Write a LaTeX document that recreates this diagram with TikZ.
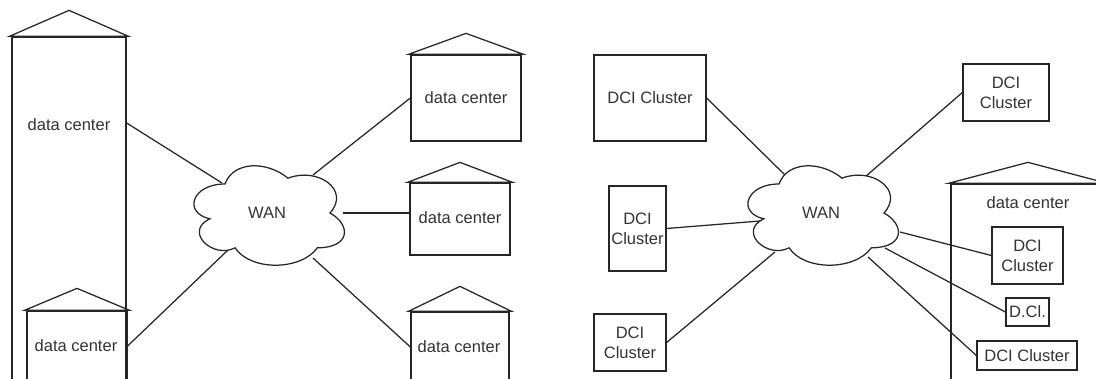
\documentclass[tikz,border=0pt]{standalone}
\usepackage{fontspec}
\setmainfont{Liberation Sans}
\usetikzlibrary{calc}

% gable roof on top of a box node: #1 node name, #2 rise of the apex
\newcommand\houseroof[2]{%
  \draw[outline] ([xshift=-2pt]#1.north west) -- ([yshift=#2]#1.north)
    -- ([xshift=2pt]#1.north east) -- cycle;}

% WAN cloud in a 168 x 116 frame whose top left corner is (#1,#2); #3 names its text
\newcommand\wancloud[3]{%
  \begin{scope}[shift={(#1,#2)}, x=168pt, y=-116pt]
    \draw[cloudline] (0.25,0.25) .. controls (0.05,0.25) and (0,0.5) .. (0.16,0.55)
      .. controls (0,0.66) and (0.18,0.9) .. (0.31,0.8)
      .. controls (0.4,1) and (0.7,1) .. (0.8,0.8)
      .. controls (1,0.8) and (1,0.6) .. (0.875,0.5)
      .. controls (1,0.3) and (0.8,0.1) .. (0.625,0.2)
      .. controls (0.5,0.05) and (0.3,0.05) .. (0.25,0.25) -- cycle;
    \node[txt] (#3) at (0.5,0.5) {WAN};
  \end{scope}}

\begin{document}
\begin{tikzpicture}[x=1pt, y=-1pt,
  outline/.style={draw=black!85, line width=1.25pt},
  box/.style={outline, rectangle, inner sep=0pt},
  txt/.style={font=\fontsize{16.5}{20}\selectfont, text=black!80, align=center, inner sep=0pt},
  link/.style={draw=black!85, line width=1.25pt},
  cloudline/.style={outline, fill=white}]

\useasboundingbox (0,0) rectangle (1096,379);
\clip (0,0) rectangle (1096,379);
\fill[white] (0,0) rectangle (1096,379);

% ---------------- left: data centers around a WAN ----------------
\node[box, minimum width=114pt, minimum height=400pt] (dc1) at (69,237) {};
\node[txt] (dc1t) at (69,125) {data center};
\houseroof{dc1}{26pt}

\node[box, txt, minimum width=110pt, minimum height=86pt] (dc2) at (466,98) {data center};
\houseroof{dc2}{21pt}

\node[box, minimum width=100pt, minimum height=72pt] (dc3) at (460,219) {};
\node[txt] (dc3t) at (460,218) {data center};
\houseroof{dc3}{20pt}

\node[box, minimum width=98pt, minimum height=400pt] (dc4) at (460,512) {};
\node[txt] (dc4t) at (459,347) {data center};
\houseroof{dc4}{25pt}

\node[box, minimum width=100pt, minimum height=400pt] (dc5) at (77,511) {};
\node[txt] (dc5t) at (76,346) {data center};
\houseroof{dc5}{22pt}

% attachment points on the left cloud
\coordinate (wl-a) at (222,183);
\coordinate (wl-b) at (313,175);
\coordinate (wl-c) at (343,213);
\coordinate (wl-d) at (313,258);
\coordinate (wl-e) at (228,250);

\draw[link] (dc1.east |- 0,123) -- (wl-a);
\draw[link] (wl-b) -- (dc2.west);
\draw[link] (wl-c) -- (dc3.west |- wl-c);
\draw[link] (wl-d) -- (dc4.west |- dc4t);
\draw[link] (wl-e) -- (dc5.east |- dc5t);

\wancloud{183}{155}{wanL}

% ---------------- right: DCI clusters around a WAN ----------------
\node[box, minimum width=154pt, minimum height=400pt] (bigdc) at (1028,384) {};
\node[txt] (bigdct) at (1028,203) {data center};
\houseroof{bigdc}{21pt}

\node[box, txt, minimum width=112pt, minimum height=86pt] (dci1) at (650,98) {DCI Cluster};
\node[box, txt, minimum width=86pt, minimum height=57pt] (dci2) at (1006,92.5) {DCI\\Cluster};
\node[box, txt, minimum width=57pt, minimum height=85pt] (dci3) at (637.5,228.5) {DCI\\Cluster};
\node[box, txt, minimum width=72pt, minimum height=57pt] (dci4) at (630,342.5) {DCI\\Cluster};
\node[box, txt, minimum width=71pt, minimum height=57pt] (dci5) at (1027.5,255.5) {DCI\\Cluster};
\node[box, txt, minimum width=43pt, minimum height=28pt] (dcl) at (1027.5,312) {D.Cl.};
\node[box, txt, minimum width=100pt, minimum height=29pt] (dci6) at (1027,355.5) {DCI Cluster};

% attachment points on the right cloud
\coordinate (wr-a) at (785,175);
\coordinate (wr-b) at (865,177);
\coordinate (wr-c) at (760,221);
\coordinate (wr-d) at (775,252);
\coordinate (wr-e) at (900,232);
\coordinate (wr-f) at (885,248);
\coordinate (wr-g) at (868,257);

\draw[link] (dci1.east) -- (wr-a);
\draw[link] (wr-b) -- (dci2.west);
\draw[link] (dci3.east) -- (wr-c);
\draw[link] (dci4.east) -- (wr-d);
\draw[link] (wr-e) -- (dci5.west);
\draw[link] (wr-f) -- (dcl.west);
\draw[link] (wr-g) -- (dci6.west);

\wancloud{737}{155}{wanR}
\end{tikzpicture}
\end{document}
